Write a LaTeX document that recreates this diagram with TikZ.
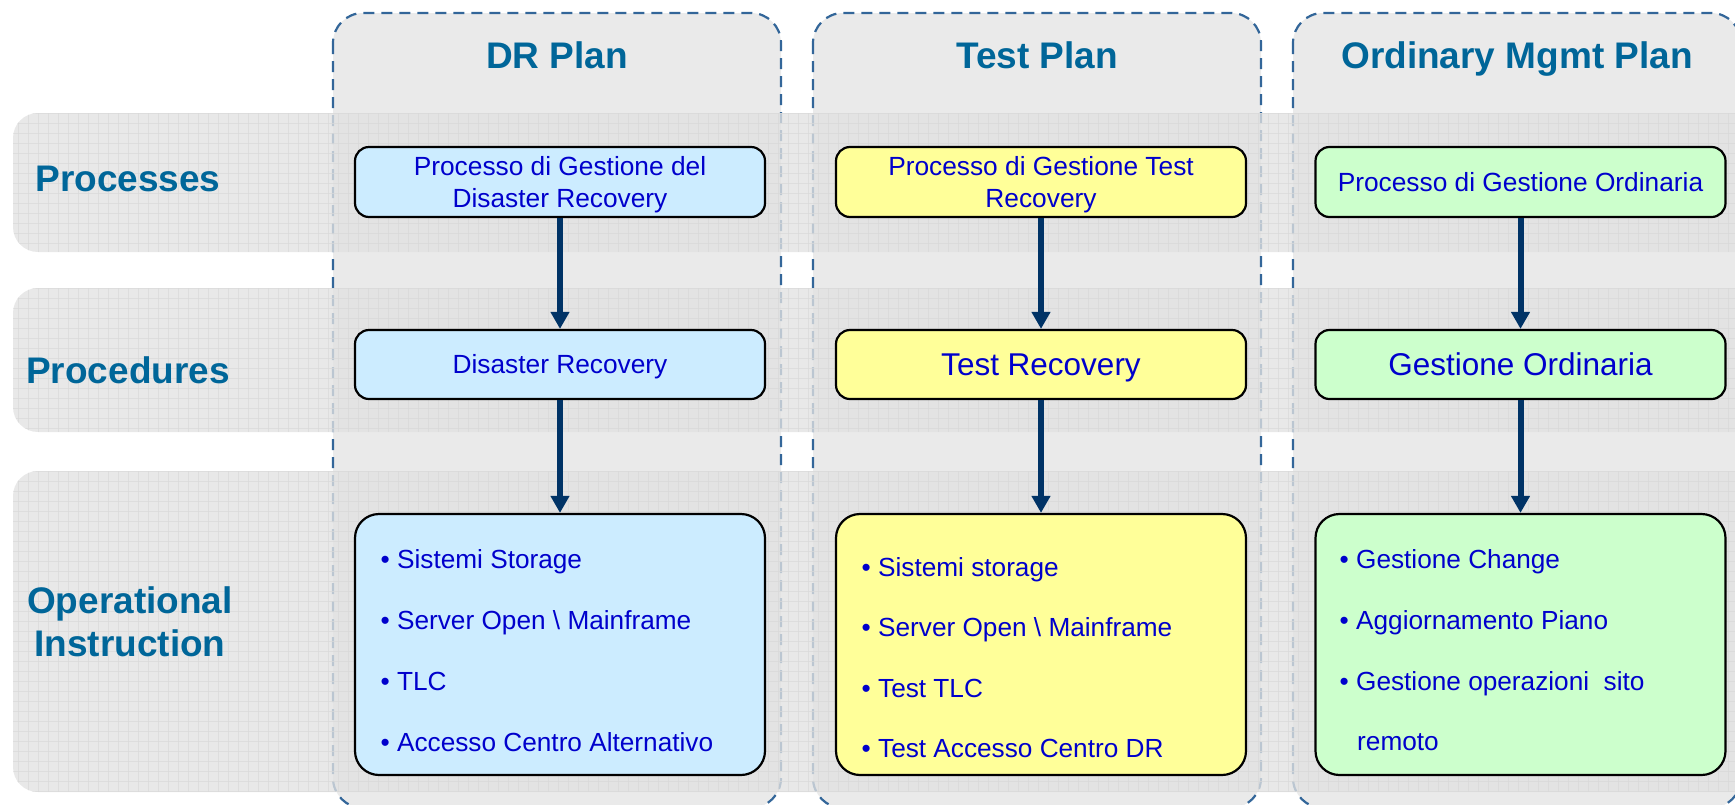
\documentclass[tikz,border=0pt]{standalone}
\usepackage{fontspec}
\setmainfont{Liberation Sans}
\usetikzlibrary{arrows.meta}

\definecolor{headblue}{HTML}{006699}
\definecolor{boxtext}{HTML}{0000CC}
\definecolor{arrowblue}{HTML}{003366}
\definecolor{dashblue}{HTML}{336699}
\definecolor{colfill}{HTML}{EAEAEA}
\definecolor{bandfill}{HTML}{E2E2E2}
\definecolor{gridline}{HTML}{D9D9D9}
\definecolor{drblue}{HTML}{CCECFF}
\definecolor{testyellow}{HTML}{FFFF99}
\definecolor{ordgreen}{HTML}{CCFFCC}

\begin{document}
\begin{tikzpicture}[x=1pt,y=-1pt,
  plancol/.style={draw=dashblue, line width=2.2pt, dash pattern=on 11pt off 7pt,
    fill=colfill, rounded corners=30pt},
  band/.style={fill=bandfill, fill opacity=0.78, rounded corners=25pt},
  header/.style={font=\fontsize{37}{43}\selectfont\bfseries, text=headblue,
    inner sep=0pt, align=center},
  stepbox/.style={draw=black, line width=2.2pt, rounded corners=14pt,
    minimum width=410pt, inner sep=0pt, text=boxtext, align=center},
  smalltxt/.style={font=\fontsize{26.3}{32}\selectfont},
  bigtxt/.style={font=\fontsize{31.5}{36}\selectfont},
  listbox/.style={stepbox, rounded corners=24pt, minimum height=261pt},
  item/.style={font=\fontsize{26.2}{30}\selectfont, text=boxtext,
    anchor=base west, inner sep=0pt},
  flow/.style={draw=arrowblue, line width=6pt,
    -{Triangle[width=18pt,length=17pt]}}
]
\useasboundingbox (0,0) rectangle (1735,804);
\clip (0,0) rectangle (1735,804);

% plan columns
\draw[plancol] (333,13) rectangle (781,808);
\draw[plancol] (813,13) rectangle (1261,808);
\draw[plancol] (1293,13) rectangle (1741,808);

% row bands with a fine grid texture
\foreach \ya/\yn/\yb in {113/123/252, 288/298/432, 471/481/792} {
  \fill[band] (13,\ya) rectangle (1765,\yb);
  \begin{scope}
    \clip[rounded corners=25pt] (13,\ya) rectangle (1765,\yb);
    \foreach \gx in {18,28,...,1738}
      \draw[gridline, line width=0.6pt, opacity=0.7] (\gx,\ya) -- (\gx,\yb);
    \foreach \gy in {\ya,\yn,...,\yb}
      \draw[gridline, line width=0.6pt, opacity=0.7] (13,\gy) -- (1765,\gy);
  \end{scope}
}

% column headers
\node[header, anchor=base] (hdr) at (557,68) {DR Plan};
\node[header, anchor=base] (htst) at (1037,68) {Test Plan};
\node[header, anchor=base] (hord) at (1517,68) {Ordinary Mgmt Plan};

% row labels
\node[header, anchor=base] (lproc) at (128,191) {Processes};
\node[header, anchor=base] (lpcd) at (128,383) {Procedures};
\node[header] (lops) at (130,622) {Operational\\Instruction};

% processes
\node[stepbox, smalltxt, fill=drblue, minimum height=70pt] (p1) at (560,182)
  {\rule{0pt}{23.6pt}Processo di Gestione del\\Disaster Recovery};
\node[stepbox, smalltxt, fill=testyellow, minimum height=70pt] (p2) at (1041,182)
  {\rule{0pt}{23.6pt}Processo di Gestione Test\\Recovery};
\node[stepbox, smalltxt, fill=ordgreen, minimum height=70pt,
  text height=18.8pt, text depth=0pt] (p3) at (1520.5,182)
  {Processo di Gestione Ordinaria};

% procedures
\node[stepbox, smalltxt, fill=drblue, minimum height=69pt,
  text height=18.8pt, text depth=0pt] (pr1) at (560,364.5) {Disaster Recovery};
\node[stepbox, bigtxt, fill=testyellow, minimum height=69pt,
  text height=22.6pt, text depth=0pt] (pr2) at (1041,364.5) {Test Recovery};
\node[stepbox, bigtxt, fill=ordgreen, minimum height=69pt,
  text height=22.6pt, text depth=0pt] (pr3) at (1520.5,364.5) {Gestione Ordinaria};

% operational instructions
\node[listbox, fill=drblue] (o1) at (560,644.5) {};
\node[listbox, fill=testyellow] (o2) at (1041,644.5) {};
\node[listbox, fill=ordgreen] (o3) at (1520.5,644.5) {};

\node[item] (o1a) at (380.5,568) {• Sistemi Storage};
\node[item] (o1b) at (380.5,629) {• Server Open \textbackslash{} Mainframe};
\node[item] (o1c) at (380.5,690) {• TLC};
\node[item] (o1d) at (380.5,751) {• Accesso Centro Alternativo};

\node[item] (o2a) at (861.5,576) {• Sistemi storage};
\node[item] (o2b) at (861.5,636) {• Server Open \textbackslash{} Mainframe};
\node[item] (o2c) at (861.5,697) {• Test TLC};
\node[item] (o2d) at (861.5,757) {• Test Accesso Centro DR};

\node[item] (o3a) at (1339.5,568) {• Gestione Change};
\node[item] (o3b) at (1339.5,629) {• Aggiornamento Piano};
\node[item] (o3c) at (1339.5,690) {• Gestione operazioni\ \ sito};
\node[item] (o3d) at (1357,750) {remoto};

% connectors
\draw[flow] (p1.south) -- (pr1.north);
\draw[flow] (pr1.south) -- (o1.north);
\draw[flow] (p2.south) -- (pr2.north);
\draw[flow] (pr2.south) -- (o2.north);
\draw[flow] (p3.south) -- (pr3.north);
\draw[flow] (pr3.south) -- (o3.north);
\end{tikzpicture}
\end{document}
